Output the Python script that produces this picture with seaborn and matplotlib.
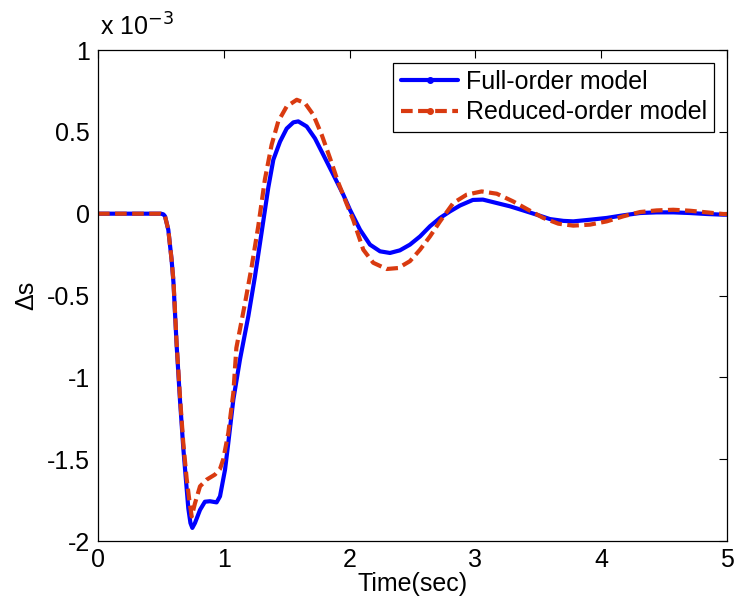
import numpy as np
import pandas as pd
import matplotlib
matplotlib.use("Agg")
import matplotlib.pyplot as plt
import seaborn as sns
from matplotlib.lines import Line2D

# Time (s) and Δs values (x 10^-3)
t_full = [0.0, 0.25, 0.5, 0.52, 0.533, 0.559, 0.585, 0.60, 0.625, 0.652, 0.678, 0.705,
          0.718, 0.735, 0.75, 0.771, 0.811, 0.85, 0.89, 0.943, 0.97, 1.01, 1.036,
          1.076, 1.129, 1.195, 1.248, 1.30, 1.354, 1.394, 1.447, 1.50, 1.553, 1.592,
          1.659, 1.725, 1.791, 1.871, 1.95, 2.003, 2.083, 2.162, 2.242, 2.321, 2.40,
          2.48, 2.56, 2.639, 2.719, 2.798, 2.878, 2.98, 3.06, 3.17, 3.275, 3.38,
          3.487, 3.593, 3.70, 3.778, 3.91, 4.044, 4.176, 4.308, 4.44, 4.573, 4.706,
          4.84, 4.97, 5.0]
s_full = [0.0, 0.0, 0.0, -0.004, -0.016, -0.098, -0.28, -0.42, -0.80, -1.14, -1.43, -1.68,
          -1.80, -1.89, -1.92, -1.89, -1.81, -1.76, -1.757, -1.764, -1.727, -1.564, -1.40,
          -1.136, -0.89, -0.627, -0.383, -0.118, 0.16, 0.33, 0.44, 0.52, 0.558, 0.564,
          0.533, 0.46, 0.36, 0.238, 0.116, 0.024, -0.098, -0.189, -0.23, -0.24, -0.224,
          -0.189, -0.139, -0.077, -0.026, 0.014, 0.05, 0.084, 0.086, 0.065, 0.045, 0.02,
          -0.006, -0.033, -0.044, -0.047, -0.037, -0.026, -0.01, 0.004, 0.008, 0.008, 0.004,
          -0.002, -0.006, -0.006]

t_red = [0.0, 0.25, 0.5, 0.52, 0.533, 0.559, 0.585, 0.60, 0.625, 0.652, 0.678, 0.705,
         0.726, 0.745, 0.771, 0.811, 0.864, 0.93, 0.97, 0.996, 1.036, 1.076, 1.10,
         1.169, 1.222, 1.274, 1.327, 1.38, 1.433, 1.50, 1.58, 1.645, 1.711, 1.778,
         1.844, 1.91, 1.977, 2.03, 2.056, 2.109, 2.188, 2.295, 2.387, 2.48, 2.56, 2.639,
         2.719, 2.824, 2.93, 3.05, 3.17, 3.30, 3.42, 3.54, 3.659, 3.778, 3.91, 4.044,
         4.176, 4.308, 4.44, 4.573, 4.706, 4.84, 4.97, 5.0]
s_red = [0.0, 0.0, 0.0, -0.004, -0.016, -0.098, -0.28, -0.41, -0.79, -1.12, -1.40, -1.62,
         -1.75, -1.85, -1.77, -1.666, -1.625, -1.594, -1.56, -1.50, -1.34, -1.095, -0.82,
         -0.546, -0.322, -0.077, 0.21, 0.42, 0.564, 0.655, 0.696, 0.676, 0.605, 0.483,
         0.34, 0.19, 0.06, -0.04, -0.10, -0.22, -0.30, -0.338, -0.332, -0.29, -0.22, -0.139,
         -0.047, 0.065, 0.116, 0.136, 0.122, 0.075, 0.024, -0.026, -0.061, -0.073, -0.067,
         -0.047, -0.016, 0.01, 0.02, 0.024, 0.018, 0.008, -0.002, -0.002]

labels = ["Full-order model", "Reduced-order model"]
colors = ["#0000ff", "#d93a10"]

df = pd.concat([
    pd.DataFrame({"t": t_full, "s": s_full, "model": labels[0]}),
    pd.DataFrame({"t": t_red, "s": s_red, "model": labels[1]}),
])

sns.set_style("white")
plt.rcParams["font.family"] = ["Liberation Sans", "DejaVu Sans"]
plt.rcParams["axes.unicode_minus"] = False
plt.rcParams["text.color"] = "black"
plt.rcParams["axes.labelcolor"] = "black"
plt.rcParams["xtick.color"] = "black"
plt.rcParams["ytick.color"] = "black"

FS = 18
LW = 3.0

fig = plt.figure(figsize=(7.35, 6.1), dpi=100)
ax = fig.add_axes([0.1333, 0.1131, 0.8558, 0.8049])

sns.lineplot(data=df, x="t", y="s", hue="model", style="model",
             palette=colors, dashes={labels[0]: "", labels[1]: (2.8, 1.3)},
             linewidth=LW, sort=False, ax=ax, legend=False)

ax.set_xlim(0, 5)
ax.set_ylim(-2, 1)
ax.set_xticks([0, 1, 2, 3, 4, 5])
ax.set_xticklabels(["0", "1", "2", "3", "4", "5"])
yt = [-2, -1.5, -1, -0.5, 0, 0.5, 1]
ax.set_yticks(yt)
ax.set_yticklabels(["-2", "-1.5", "-1", "-0.5", "0", "0.5", "1"])
ax.tick_params(direction="in", top=True, right=True, labelsize=FS, length=6,
               width=0.8, color="black", labelcolor="black")
ax.tick_params(axis="x", pad=5)
ax.tick_params(axis="y", pad=6)
for sp in ax.spines.values():
    sp.set_color("black")
    sp.set_linewidth(0.9)

ax.set_xlabel("Time(sec)", fontsize=FS, labelpad=0, color="black")
ax.set_ylabel("Δs", fontsize=FS, labelpad=6, color="black")
ax.text(0.003, 1.02, "x 10$^{-3}$", transform=ax.transAxes, fontsize=FS,
        ha="left", va="bottom", color="black")

handles = [
    Line2D([], [], color=colors[0], lw=LW, marker=".", markersize=8),
    Line2D([], [], color=colors[1], lw=LW, ls=(0, (2.8, 1.3)), marker=".", markersize=8),
]
leg = ax.legend(handles, labels, loc="upper right", fontsize=FS, frameon=True,
                fancybox=False, edgecolor="black", framealpha=1,
                borderpad=0.3, handlelength=2.3, handletextpad=0.3,
                labelspacing=0.25, borderaxespad=0.5)
leg.get_frame().set_linewidth(0.9)
for txt in leg.get_texts():
    txt.set_color("black")

fig.savefig("out.png", dpi=100)
